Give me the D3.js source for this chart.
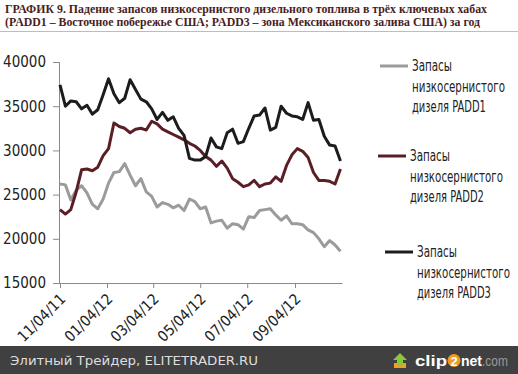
<!DOCTYPE html>
<html>
<head>
<meta charset="utf-8">
<script src="https://cdn.jsdelivr.net/npm/d3@7"></script>
<style>
  body { margin: 0; background: #fff; }
  svg { display: block; }
  .cond { font-family: "Liberation Sans Narrow", "DejaVu Sans", sans-serif; font-stretch: condensed; }
</style>
</head>
<body>
<div id="chart"></div>
<script>
// weekly observations starting 11/04/11
const startDate = new Date(2011, 10, 4);
const endDate = new Date(2012, 10, 4);

const padd1 = [26200, 26100, 24400, 25500, 26000, 25200, 23900, 23400, 24500, 26300,
  27500, 27600, 28500, 27200, 26000, 26800, 25300, 24800, 23600, 24100,
  23900, 23500, 23800, 23200, 24500, 24200, 23400, 23600, 21800, 22000,
  22100, 21200, 21700, 21600, 21100, 22500, 22400, 23200, 23300, 23400,
  22700, 22100, 22600, 21700, 21700, 21600, 21000, 20700, 20000, 19100,
  19800, 19300, 18600];

const padd2 = [23300, 22800, 23300, 25300, 27800, 27900, 27700, 28100, 29400, 30200,
  33100, 32700, 32500, 32000, 32400, 32500, 32300, 33300, 33000, 32400,
  32100, 31800, 31500, 31200, 30800, 30500, 30000, 29300, 28900, 28200,
  28800, 28000, 26800, 26400, 25900, 26100, 26600, 25900, 26200, 26300,
  27000, 26500, 28300, 29500, 30200, 29900, 29200, 27500, 26600, 26600,
  26500, 26200, 27900];

const padd3 = [37400, 35000, 35600, 35500, 34700, 35100, 34100, 34600, 36300, 38100,
  36400, 35400, 35900, 38000, 36900, 35800, 35500, 34700, 33500, 34300,
  33400, 33800, 32500, 31700, 29100, 28900, 28900, 29300, 31400, 30400,
  30200, 32000, 32400, 30800, 31000, 32500, 33900, 34000, 34800, 32300,
  32600, 35000, 34200, 33900, 33800, 33500, 35400, 33400, 33500, 31600,
  30600, 30500, 28800];

const yTicks = [15000, 20000, 25000, 30000, 35000, 40000];
const xTickLabels = ["11/04/11", "01/04/12", "03/04/12", "05/04/12", "07/04/12", "09/04/12"];

const legendLabels = [
  ["Запасы", "низкосернистого", "дизеля PADD1"],
  ["Запасы", "низкосернистого", "дизеля PADD2"],
  ["Запасы", "низкосернистого", "дизеля PADD3"]
];
const titleLines = [
  "ГРАФИК 9. Падение запасов низкосернистого дизельного топлива в трёх ключевых хабах",
  "(PADD1 – Восточное побережье США; PADD3 – зона Мексиканского залива США) за год"
];

const W = 518, H = 374;
const parse = d3.timeParse("%m/%d/%y");
const dates = padd1.map((d, i) => d3.timeDay.offset(startDate, 7 * i));

const svg = d3.select("#chart").append("svg").attr("width", W).attr("height", H);

// title
const title = svg.append("g")
  .style("font-family", "'Liberation Serif', 'DejaVu Serif', serif")
  .style("font-weight", "bold")
  .style("font-size", "12px")
  .attr("fill", "#4a1d1d");
title.append("text").attr("x", 5).attr("y", 13)
  .attr("textLength", 482).attr("lengthAdjust", "spacingAndGlyphs").text(titleLines[0]);
title.append("text").attr("x", 5).attr("y", 25.5)
  .attr("textLength", 475).attr("lengthAdjust", "spacingAndGlyphs").text(titleLines[1]);
svg.append("line").attr("x1", 0).attr("x2", W).attr("y1", 31.5).attr("y2", 31.5)
  .attr("stroke", "#bdbdbd").attr("stroke-width", 1);

// scales
const x = d3.scaleTime().domain([startDate, endDate]).range([60, 342]);
const y = d3.scaleLinear().domain([15000, 40000]).range([283, 62]);

// y axis
const yAxis = svg.append("g").attr("class", "cond")
  .attr("transform", "translate(60,0)")
  .call(d3.axisLeft(y).tickValues(yTicks).tickFormat(d3.format("d")).tickSize(7).tickPadding(7));
yAxis.selectAll("path, line").attr("stroke", "#8a8a8a");
yAxis.selectAll("text").attr("fill", "#222").style("font-size", "15px");
yAxis.select(".domain").attr("d", `M-0.5,${y(40000)}V${y(15000)}`);

// x axis
const xAxis = svg.append("g").attr("class", "cond")
  .attr("transform", `translate(0,${y(15000)})`)
  .call(d3.axisBottom(x).tickValues(xTickLabels.map(parse)).tickFormat(d3.timeFormat("%m/%d/%y")).tickSize(5).tickSizeOuter(0));
xAxis.selectAll("path, line").attr("stroke", "#8a8a8a");
xAxis.selectAll("text")
  .attr("fill", "#222")
  .style("font-size", "15px")
  .style("text-anchor", "end")
  .attr("dy", 0)
  .attr("y", 0)
  .attr("transform", "translate(6,17) rotate(-45)");

// lines
const line = d3.line().x((d, i) => x(dates[i])).y(d => y(d));
const series = [
  {values: padd1, color: "#9b9b9b"},
  {values: padd2, color: "#5a1f24"},
  {values: padd3, color: "#1c1c1c"}
];
svg.selectAll(".series")
  .data(series)
  .join("path")
  .attr("class", "series")
  .attr("fill", "none")
  .attr("stroke", d => d.color)
  .attr("stroke-width", 3)
  .attr("stroke-linejoin", "round")
  .attr("d", d => line(d.values));

// legend
const legendPos = [{x: 380, y: 66}, {x: 378, y: 156}, {x: 385, y: 252}];
const legend = svg.selectAll(".legend")
  .data(series)
  .join("g")
  .attr("class", "legend cond")
  .attr("transform", (d, i) => `translate(${legendPos[i].x},${legendPos[i].y})`);
legend.append("line")
  .attr("x1", 0).attr("x2", 28).attr("y1", 0).attr("y2", 0)
  .attr("stroke", d => d.color).attr("stroke-width", 3);
legend.each(function(d, i) {
  d3.select(this).selectAll("text")
    .data(legendLabels[i])
    .join("text")
    .attr("fill", "#222")
    .style("font-size", "15px")
    .text(t => t)
    .attr("transform", function(t, j) {
      // narrow the label to the width it has in the picture
      const target = t === "низкосернистого" ? 93 : t === "Запасы" ? 40 : 74;
      const s = Math.min(1, target / this.getComputedTextLength());
      return `translate(32,${5 + j * 20.5}) scale(${s},1)`;
    });
});

// footer bar
svg.append("rect").attr("x", 0).attr("y", 346).attr("width", W).attr("height", 28).attr("fill", "#404040");
svg.append("text").attr("x", 10).attr("y", 365)
  .attr("fill", "#dedede")
  .style("font-family", "'DejaVu Sans', Verdana, sans-serif")
  .style("font-size", "12.5px")
  .attr("textLength", 248).attr("lengthAdjust", "spacingAndGlyphs")
  .text("Элитный Трейдер, ELITETRADER.RU");

const logo = svg.append("g").attr("transform", "translate(394,351)");
logo.append("path").attr("d", "M0,12 L12,12 L12,17 L0,17 Z").attr("fill", "#f0a020");
logo.append("path").attr("d", "M6,2 L13,9 L9,9 L9,15 L3,15 L3,9 L-1,9 Z").attr("fill", "#8cc63f");
const logoFont = "'Liberation Sans', Arial, sans-serif";
svg.append("text").attr("x", 415).attr("y", 366)
  .style("font-family", logoFont).style("font-weight", "bold").style("font-size", "15px")
  .attr("fill", "#fff").attr("textLength", 32).attr("lengthAdjust", "spacingAndGlyphs").text("clip");
svg.append("circle").attr("cx", 454).attr("cy", 360.5).attr("r", 6.5).attr("fill", "#f39a1e");
svg.append("text").attr("x", 454).attr("y", 365.5).attr("text-anchor", "middle")
  .style("font-family", logoFont).style("font-weight", "bold").style("font-size", "13px")
  .attr("fill", "#fff").text("2");
svg.append("text").attr("x", 461).attr("y", 366)
  .style("font-family", logoFont).style("font-weight", "bold").style("font-size", "15px")
  .attr("fill", "#fff").attr("textLength", 21).attr("lengthAdjust", "spacingAndGlyphs").text("net");
svg.append("text").attr("x", 482).attr("y", 366)
  .style("font-family", logoFont).style("font-size", "15px")
  .attr("fill", "#9a9a9a").attr("textLength", 26).attr("lengthAdjust", "spacingAndGlyphs").text(".com");
</script>
</body>
</html>
